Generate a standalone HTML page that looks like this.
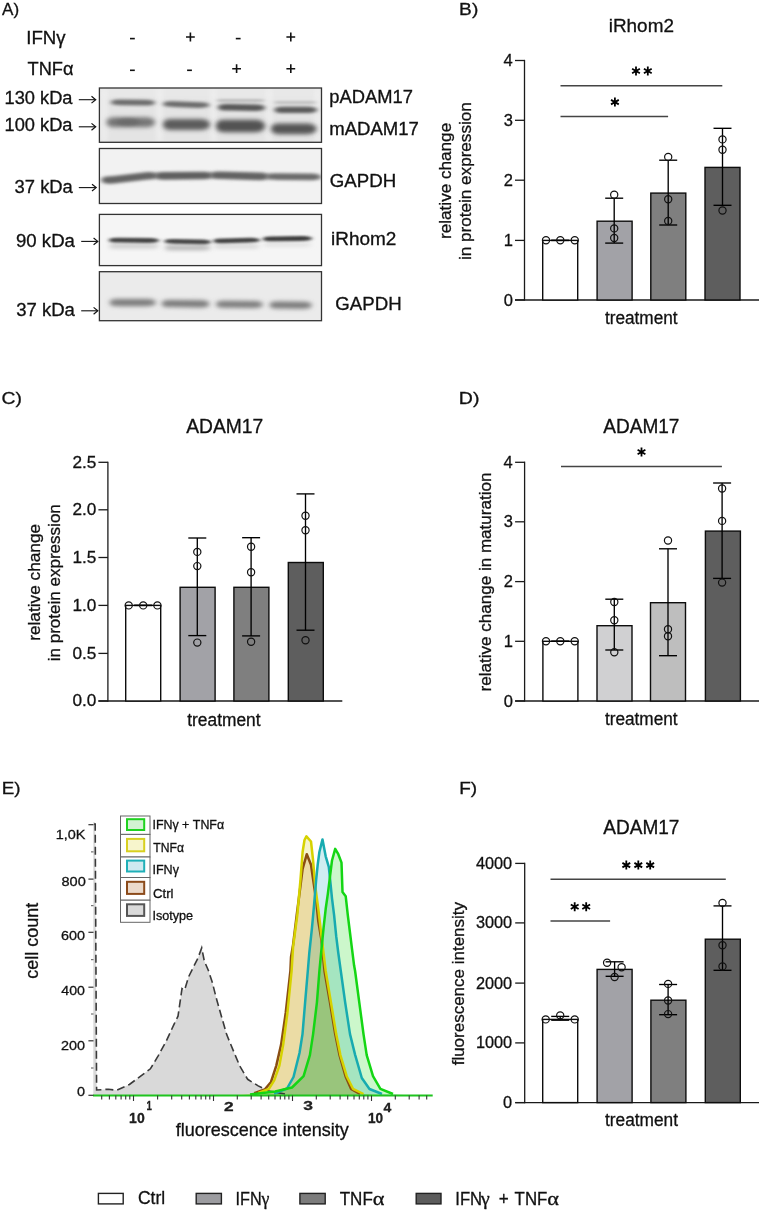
<!DOCTYPE html>
<html><head><meta charset="utf-8"><style>
html,body{margin:0;padding:0;background:#fff;}
svg{display:block;}
text{font-family:"Liberation Sans", sans-serif;fill:#111;font-kerning:none;stroke:#111;stroke-width:0.3px;}
</style></head><body>
<svg width="761" height="1211" viewBox="0 0 761 1211">
<rect width="761" height="1211" fill="#fff"/>
<text x="2.07" y="14.5" font-size="17" textLength="17.09" lengthAdjust="spacingAndGlyphs" >A)</text>
<text x="459.13" y="14.7" font-size="17" textLength="19.16" lengthAdjust="spacingAndGlyphs" >B)</text>
<text x="1.62" y="403.9" font-size="17" textLength="20.38" lengthAdjust="spacingAndGlyphs" >C)</text>
<text x="458.80" y="404.2" font-size="17" textLength="20.61" lengthAdjust="spacingAndGlyphs" >D)</text>
<text x="1.76" y="794.3" font-size="17" textLength="18.81" lengthAdjust="spacingAndGlyphs" >E)</text>
<text x="459.24" y="794.4" font-size="17" textLength="17.94" lengthAdjust="spacingAndGlyphs" >F)</text>
<text x="26.28" y="43.5" font-size="18" textLength="39.39" lengthAdjust="spacingAndGlyphs" >IFNγ</text>
<text x="27.59" y="75.3" font-size="18" textLength="45.93" lengthAdjust="spacingAndGlyphs" >TNFα</text>
<path d="M130.0 38.6H134.8" stroke="#111" stroke-width="1.6" fill="none"/>
<path d="M186.0 37.0H194.8M190.4 32.6V41.4" stroke="#111" stroke-width="1.6" fill="none"/>
<path d="M235.79999999999998 38.6H240.6" stroke="#111" stroke-width="1.6" fill="none"/>
<path d="M286.40000000000003 37.0H295.2M290.8 32.6V41.4" stroke="#111" stroke-width="1.6" fill="none"/>
<path d="M130.0 70.3H134.8" stroke="#111" stroke-width="1.6" fill="none"/>
<path d="M187.1 70.3H191.9" stroke="#111" stroke-width="1.6" fill="none"/>
<path d="M232.2 68.7H241.0M236.6 64.3V73.10000000000001" stroke="#111" stroke-width="1.6" fill="none"/>
<path d="M286.40000000000003 68.7H295.2M290.8 64.3V73.10000000000001" stroke="#111" stroke-width="1.6" fill="none"/>
<text x="4.51" y="104.4" font-size="17.5" textLength="67.99" lengthAdjust="spacingAndGlyphs" >130 kDa</text>
<text x="4.51" y="131.3" font-size="17.5" textLength="67.99" lengthAdjust="spacingAndGlyphs" >100 kDa</text>
<text x="14.60" y="192.5" font-size="17.5" textLength="58.20" lengthAdjust="spacingAndGlyphs" >37 kDa</text>
<text x="16.03" y="246.7" font-size="17.5" textLength="58.87" lengthAdjust="spacingAndGlyphs" >90 kDa</text>
<text x="16.19" y="315.8" font-size="17.5" textLength="58.71" lengthAdjust="spacingAndGlyphs" >37 kDa</text>
<path d="M78.8 99.7H95.10000000000001" stroke="#111" stroke-width="1.1" fill="none"/>
<path d="M91.5 96.3L95.7 99.7L91.5 103.10000000000001" stroke="#111" stroke-width="1.2" fill="none"/>
<path d="M78.8 126.8H95.10000000000001" stroke="#111" stroke-width="1.1" fill="none"/>
<path d="M91.5 123.39999999999999L95.7 126.8L91.5 130.2" stroke="#111" stroke-width="1.2" fill="none"/>
<path d="M78.8 187.6H95.60000000000001" stroke="#111" stroke-width="1.1" fill="none"/>
<path d="M92.0 184.2L96.2 187.6L92.0 191.0" stroke="#111" stroke-width="1.2" fill="none"/>
<path d="M81.2 241.4H97.2" stroke="#111" stroke-width="1.1" fill="none"/>
<path d="M93.6 238.0L97.8 241.4L93.6 244.8" stroke="#111" stroke-width="1.2" fill="none"/>
<path d="M81.2 310.8H97.2" stroke="#111" stroke-width="1.1" fill="none"/>
<path d="M93.6 307.40000000000003L97.8 310.8L93.6 314.2" stroke="#111" stroke-width="1.2" fill="none"/>
<text x="329.32" y="102.6" font-size="17.5" textLength="83.60" lengthAdjust="spacingAndGlyphs" >pADAM17</text>
<text x="329.27" y="135.2" font-size="17.5" textLength="89.66" lengthAdjust="spacingAndGlyphs" >mADAM17</text>
<text x="329.76" y="186.8" font-size="17.5" textLength="66.36" lengthAdjust="spacingAndGlyphs" >GAPDH</text>
<text x="331.03" y="244.9" font-size="17.5" textLength="65.32" lengthAdjust="spacingAndGlyphs" >iRhom2</text>
<text x="335.36" y="310.0" font-size="17.5" textLength="66.26" lengthAdjust="spacingAndGlyphs" >GAPDH</text>
<defs><filter id="bA" x="-30%" y="-150%" width="160%" height="400%"><feGaussianBlur stdDeviation="2.4 1.5"/></filter><filter id="bB" x="-30%" y="-150%" width="160%" height="400%"><feGaussianBlur stdDeviation="2.0 1.0"/></filter><filter id="bC" x="-30%" y="-150%" width="160%" height="400%"><feGaussianBlur stdDeviation="2.6 2.0"/></filter><filter id="bS" x="-100%" y="-20%" width="300%" height="140%"><feGaussianBlur stdDeviation="2.5 3"/></filter><clipPath id="c1"><rect x="99.4" y="88" width="222.1" height="54.3"/></clipPath><clipPath id="c2"><rect x="99.4" y="148.5" width="222.1" height="55"/></clipPath><clipPath id="c3"><rect x="99.4" y="214.4" width="222.1" height="51.2"/></clipPath><clipPath id="c4"><rect x="99.4" y="271.7" width="222.1" height="49"/></clipPath></defs>
<g clip-path="url(#c1)">
<rect x="99.4" y="88" width="222.1" height="54.3" fill="#e4e4e4"/>
<rect x="99.4" y="88" width="222.1" height="10" fill="#e9e9e9" filter="url(#bS)"/>
<rect x="101.5" y="88" width="5" height="54" fill="#efefef" filter="url(#bS)"/>
<rect x="157.0" y="88" width="5" height="54" fill="#efefef" filter="url(#bS)"/>
<rect x="211.0" y="88" width="5" height="54" fill="#efefef" filter="url(#bS)"/>
<rect x="266.5" y="88" width="5" height="54" fill="#efefef" filter="url(#bS)"/>
<rect x="315.5" y="88" width="5" height="54" fill="#efefef" filter="url(#bS)"/>
<path d="M111.0 102.3C111.0 99.4 117.0 99.4 121.0 99.4L145.0 99.8C151.0 99.8 155.0 101.0 155.0 102.7C155.0 104.4 151.0 105.6 145.0 105.6L121.0 105.2C117.0 105.2 111.0 105.2 111.0 102.3Z" fill="#6c6c6c" opacity="1" filter="url(#bA)"/>
<path d="M163.0 104.1C163.0 101.3 169.0 101.3 173.0 101.3L199.5 102.3C205.5 102.3 209.5 103.4 209.5 105.1C209.5 106.8 205.5 107.9 199.5 107.9L173.0 106.9C169.0 106.9 163.0 106.9 163.0 104.1Z" fill="#6a6a6a" opacity="1" filter="url(#bA)"/>
<path d="M216.5 100.6C216.5 99.1 222.5 99.1 226.5 99.1L255.0 99.1C261.0 99.1 265.0 99.7 265.0 100.6C265.0 101.5 261.0 102.1 255.0 102.1L226.5 102.1C222.5 102.1 216.5 102.1 216.5 100.6Z" fill="#bdbdbd" opacity="1" filter="url(#bB)"/>
<path d="M274.0 102.4C274.0 100.9 280.0 100.9 284.0 100.9L307.0 100.9C313.0 100.9 317.0 101.5 317.0 102.4C317.0 103.3 313.0 103.9 307.0 103.9L284.0 103.9C280.0 103.9 274.0 103.9 274.0 102.4Z" fill="#c2c2c2" opacity="1" filter="url(#bB)"/>
<path d="M218.0 107.3C218.0 104.0 224.0 104.0 228.0 104.0L255.0 104.5C261.0 104.5 265.0 105.8 265.0 107.8C265.0 109.8 261.0 111.1 255.0 111.1L228.0 110.6C224.0 110.6 218.0 110.6 218.0 107.3Z" fill="#575757" opacity="1" filter="url(#bA)"/>
<path d="M274.5 109.9C274.5 106.8 280.5 106.8 284.5 106.8L307.0 106.8C313.0 106.8 317.0 108.0 317.0 109.9C317.0 111.8 313.0 113.0 307.0 113.0L284.5 113.0C280.5 113.0 274.5 113.0 274.5 109.9Z" fill="#5a5a5a" opacity="1" filter="url(#bA)"/>
<path d="M106.5 122.3C106.5 117.3 112.5 117.3 116.5 117.3L145.0 117.3C151.0 117.3 155.0 119.3 155.0 122.3C155.0 125.3 151.0 127.3 145.0 127.3L116.5 127.3C112.5 127.3 106.5 127.3 106.5 122.3Z" fill="#777777" opacity="1" filter="url(#bC)"/>
<ellipse cx="128" cy="122.0" rx="12" ry="3.5" fill="#666" opacity="0.7" filter="url(#bA)"/>
<path d="M163.0 124.6C163.0 119.1 169.0 119.1 173.0 119.1L200.0 119.1C206.0 119.1 210.0 121.3 210.0 124.6C210.0 127.9 206.0 130.1 200.0 130.1L173.0 130.1C169.0 130.1 163.0 130.1 163.0 124.6Z" fill="#5c5c5c" opacity="1" filter="url(#bC)"/>
<path d="M216.0 126.0C216.0 119.8 222.0 119.8 226.0 119.8L255.0 119.8C261.0 119.8 265.0 122.3 265.0 126.0C265.0 129.7 261.0 132.2 255.0 132.2L226.0 132.2C222.0 132.2 216.0 132.2 216.0 126.0Z" fill="#525252" opacity="1" filter="url(#bC)"/>
<path d="M271.0 128.8C271.0 123.4 277.0 123.4 281.0 123.4L306.5 123.4C312.5 123.4 316.5 125.6 316.5 128.8C316.5 132.0 312.5 134.2 306.5 134.2L281.0 134.2C277.0 134.2 271.0 134.2 271.0 128.8Z" fill="#545454" opacity="1" filter="url(#bC)"/>
</g>
<rect x="99.4" y="88" width="222.1" height="54.3" fill="none" stroke="#333" stroke-width="1.3"/>
<g clip-path="url(#c2)">
<rect x="99.4" y="148.5" width="222.1" height="55" fill="#f2f2f2"/>
<path d="M101.5 180.0C101.5 176.3 107.5 176.3 111.5 176.3L148.0 172.1C154.0 172.1 158.0 173.6 158.0 175.8C158.0 178.0 154.0 179.5 148.0 179.5L111.5 183.7C107.5 183.7 101.5 183.7 101.5 180.0Z" fill="#636363" opacity="1" filter="url(#bA)"/>
<path d="M155.0 175.9C155.0 172.1 161.0 172.1 165.0 172.1L203.0 171.7C209.0 171.7 213.0 173.2 213.0 175.5C213.0 177.8 209.0 179.3 203.0 179.3L165.0 179.7C161.0 179.7 155.0 179.7 155.0 175.9Z" fill="#5f5f5f" opacity="1" filter="url(#bA)"/>
<path d="M210.0 175.2C210.0 171.4 216.0 171.4 220.0 171.4L259.0 172.6C265.0 172.6 269.0 174.1 269.0 176.4C269.0 178.7 265.0 180.2 259.0 180.2L220.0 179.0C216.0 179.0 210.0 179.0 210.0 175.2Z" fill="#626262" opacity="1" filter="url(#bA)"/>
<path d="M266.0 176.6C266.0 173.3 272.0 173.3 276.0 173.3L311.0 173.6C317.0 173.6 321.0 174.9 321.0 176.9C321.0 178.9 317.0 180.2 311.0 180.2L276.0 179.9C272.0 179.9 266.0 179.9 266.0 176.6Z" fill="#6a6a6a" opacity="1" filter="url(#bA)"/>
</g>
<rect x="99.4" y="148.5" width="222.1" height="55" fill="none" stroke="#333" stroke-width="1.3"/>
<g clip-path="url(#c3)">
<rect x="99.4" y="214.4" width="222.1" height="51.2" fill="#f5f5f5"/>
<path d="M109.0 246.0C109.0 244.0 115.0 244.0 119.0 244.0L149.0 244.0C155.0 244.0 159.0 244.8 159.0 246.0C159.0 247.2 155.0 248.0 149.0 248.0L119.0 248.0C115.0 248.0 109.0 248.0 109.0 246.0Z" fill="#c2c2c2" opacity="1" filter="url(#bC)"/>
<path d="M164.5 247.6C164.5 245.4 170.5 245.4 174.5 245.4L201.0 245.4C207.0 245.4 211.0 246.3 211.0 247.6C211.0 248.9 207.0 249.8 201.0 249.8L174.5 249.8C170.5 249.8 164.5 249.8 164.5 247.6Z" fill="#a8a8a8" opacity="1" filter="url(#bC)"/>
<path d="M213.5 246.2C213.5 244.4 219.5 244.4 223.5 244.4L250.0 244.4C256.0 244.4 260.0 245.1 260.0 246.2C260.0 247.3 256.0 248.0 250.0 248.0L223.5 248.0C219.5 248.0 213.5 248.0 213.5 246.2Z" fill="#cdcdcd" opacity="1" filter="url(#bC)"/>
<path d="M263.0 244.5C263.0 243.0 269.0 243.0 273.0 243.0L302.0 243.0C308.0 243.0 312.0 243.6 312.0 244.5C312.0 245.4 308.0 246.0 302.0 246.0L273.0 246.0C269.0 246.0 263.0 246.0 263.0 244.5Z" fill="#d8d8d8" opacity="1" filter="url(#bC)"/>
<path d="M109.0 240.2C109.0 237.8 115.0 237.8 119.0 237.8L149.0 238.1C155.0 238.1 159.0 239.1 159.0 240.5C159.0 241.9 155.0 242.9 149.0 242.9L119.0 242.6C115.0 242.6 109.0 242.6 109.0 240.2Z" fill="#444444" opacity="1" filter="url(#bB)"/>
<path d="M164.5 241.3C164.5 238.9 170.5 238.9 174.5 238.9L201.0 239.5C207.0 239.5 211.0 240.5 211.0 241.9C211.0 243.3 207.0 244.3 201.0 244.3L174.5 243.7C170.5 243.7 164.5 243.7 164.5 241.3Z" fill="#464646" opacity="1" filter="url(#bB)"/>
<path d="M213.5 240.9C213.5 238.5 219.5 238.5 223.5 238.5L250.0 237.7C256.0 237.7 260.0 238.7 260.0 240.1C260.0 241.5 256.0 242.5 250.0 242.5L223.5 243.3C219.5 243.3 213.5 243.3 213.5 240.9Z" fill="#424242" opacity="1" filter="url(#bB)"/>
<path d="M263.0 238.9C263.0 236.5 269.0 236.5 273.0 236.5L302.0 236.1C308.0 236.1 312.0 237.1 312.0 238.5C312.0 239.9 308.0 240.9 302.0 240.9L273.0 241.3C269.0 241.3 263.0 241.3 263.0 238.9Z" fill="#3e3e3e" opacity="1" filter="url(#bB)"/>
</g>
<rect x="99.4" y="214.4" width="222.1" height="51.2" fill="none" stroke="#333" stroke-width="1.3"/>
<g clip-path="url(#c4)">
<rect x="99.4" y="271.7" width="222.1" height="49" fill="#ebebeb"/>
<path d="M109.5 302.6C109.5 299.0 115.5 299.0 119.5 299.0L146.0 299.0C152.0 299.0 156.0 300.4 156.0 302.6C156.0 304.8 152.0 306.2 146.0 306.2L119.5 306.2C115.5 306.2 109.5 306.2 109.5 302.6Z" fill="#7c7c7c" opacity="1" filter="url(#bC)"/>
<path d="M161.5 303.5C161.5 299.9 167.5 299.9 171.5 299.9L199.5 300.3C205.5 300.3 209.5 301.7 209.5 303.9C209.5 306.1 205.5 307.5 199.5 307.5L171.5 307.1C167.5 307.1 161.5 307.1 161.5 303.5Z" fill="#7a7a7a" opacity="1" filter="url(#bC)"/>
<path d="M216.0 304.2C216.0 300.7 222.0 300.7 226.0 300.7L253.0 301.0C259.0 301.0 263.0 302.4 263.0 304.5C263.0 306.6 259.0 308.0 253.0 308.0L226.0 307.7C222.0 307.7 216.0 307.7 216.0 304.2Z" fill="#7d7d7d" opacity="1" filter="url(#bC)"/>
<path d="M269.5 305.0C269.5 301.5 275.5 301.5 279.5 301.5L302.0 301.8C308.0 301.8 312.0 303.2 312.0 305.3C312.0 307.4 308.0 308.8 302.0 308.8L279.5 308.5C275.5 308.5 269.5 308.5 269.5 305.0Z" fill="#7a7a7a" opacity="1" filter="url(#bC)"/>
</g>
<rect x="99.4" y="271.7" width="222.1" height="49" fill="none" stroke="#333" stroke-width="1.3"/>
<line x1="524.5" y1="59.85" x2="524.5" y2="300.65" stroke="#1a1a1a" stroke-width="1.3" />
<line x1="515.0" y1="300" x2="759" y2="300" stroke="#1a1a1a" stroke-width="1.3" />
<line x1="515.0" y1="60.5" x2="524.5" y2="60.5" stroke="#1a1a1a" stroke-width="1.3" />
<text x="503.51" y="66.1" font-size="16.5" >4</text>
<line x1="515.0" y1="120.3" x2="524.5" y2="120.3" stroke="#1a1a1a" stroke-width="1.3" />
<text x="503.75" y="125.9" font-size="16.5" >3</text>
<line x1="515.0" y1="180.2" x2="524.5" y2="180.2" stroke="#1a1a1a" stroke-width="1.3" />
<text x="503.85" y="185.8" font-size="16.5" >2</text>
<line x1="515.0" y1="240.4" x2="524.5" y2="240.4" stroke="#1a1a1a" stroke-width="1.3" />
<text x="503.83" y="246.0" font-size="16.5" >1</text>
<line x1="515.0" y1="300" x2="524.5" y2="300" stroke="#1a1a1a" stroke-width="1.3" />
<text x="503.67" y="305.6" font-size="16.5" >0</text>
<rect x="542.7" y="240.4" width="35" height="59.599999999999994" fill="#ffffff" stroke="#0d0d0d" stroke-width="1.4" />
<rect x="597.1" y="221.2" width="35" height="78.80000000000001" fill="#a2a2a7" stroke="#0d0d0d" stroke-width="1.4" />
<rect x="650.8" y="193.1" width="35" height="106.9" fill="#7f7f7f" stroke="#0d0d0d" stroke-width="1.4" />
<rect x="705.0" y="167.4" width="35" height="132.6" fill="#5e5e5e" stroke="#0d0d0d" stroke-width="1.4" />
<line x1="560.2" y1="240.4" x2="560.2" y2="240.4" stroke="#000" stroke-width="1.35" />
<line x1="551.2" y1="240.4" x2="569.2" y2="240.4" stroke="#000" stroke-width="1.35" />
<line x1="551.2" y1="240.4" x2="569.2" y2="240.4" stroke="#000" stroke-width="1.35" />
<line x1="614.2" y1="198.2" x2="614.2" y2="243.1" stroke="#000" stroke-width="1.35" />
<line x1="605.2" y1="198.2" x2="623.2" y2="198.2" stroke="#000" stroke-width="1.35" />
<line x1="605.2" y1="243.1" x2="623.2" y2="243.1" stroke="#000" stroke-width="1.35" />
<line x1="668.2" y1="160.2" x2="668.2" y2="225.0" stroke="#000" stroke-width="1.35" />
<line x1="659.2" y1="160.2" x2="677.2" y2="160.2" stroke="#000" stroke-width="1.35" />
<line x1="659.2" y1="225.0" x2="677.2" y2="225.0" stroke="#000" stroke-width="1.35" />
<line x1="722.5" y1="128.3" x2="722.5" y2="205.3" stroke="#000" stroke-width="1.35" />
<line x1="713.5" y1="128.3" x2="731.5" y2="128.3" stroke="#000" stroke-width="1.35" />
<line x1="713.5" y1="205.3" x2="731.5" y2="205.3" stroke="#000" stroke-width="1.35" />
<circle cx="546" cy="240.2" r="3.6" fill="none" stroke="#111" stroke-width="1.2"/>
<circle cx="560.3" cy="240.2" r="3.6" fill="none" stroke="#111" stroke-width="1.2"/>
<circle cx="574.75" cy="240.2" r="3.6" fill="none" stroke="#111" stroke-width="1.2"/>
<circle cx="614.2" cy="194.8" r="3.6" fill="none" stroke="#111" stroke-width="1.2"/>
<circle cx="614.2" cy="228.4" r="3.6" fill="none" stroke="#111" stroke-width="1.2"/>
<circle cx="614.2" cy="238" r="3.6" fill="none" stroke="#111" stroke-width="1.2"/>
<circle cx="668.2" cy="156.9" r="3.6" fill="none" stroke="#111" stroke-width="1.2"/>
<circle cx="668.2" cy="199.3" r="3.6" fill="none" stroke="#111" stroke-width="1.2"/>
<circle cx="668.2" cy="221" r="3.6" fill="none" stroke="#111" stroke-width="1.2"/>
<circle cx="722.5" cy="139.4" r="3.6" fill="none" stroke="#111" stroke-width="1.2"/>
<circle cx="722.5" cy="149.7" r="3.6" fill="none" stroke="#111" stroke-width="1.2"/>
<circle cx="722.5" cy="210.5" r="3.6" fill="none" stroke="#111" stroke-width="1.2"/>
<text x="608.73" y="31.9" font-size="19" textLength="65.22" lengthAdjust="spacingAndGlyphs" >iRhom2</text>
<text x="604.94" y="323.9" font-size="17.5" textLength="72.69" lengthAdjust="spacingAndGlyphs" >treatment</text>
<text transform="translate(450.8 237.8) rotate(-90)" x="-1.14" y="0" font-size="17" textLength="116.10" lengthAdjust="spacingAndGlyphs" >relative change</text>
<text transform="translate(470.9 258.8) rotate(-90)" x="-1.14" y="0" font-size="17" textLength="157.65" lengthAdjust="spacingAndGlyphs" >in protein expression</text>
<line x1="560.5" y1="85.7" x2="722.3" y2="85.7" stroke="#444" stroke-width="1.5" />
<line x1="560.5" y1="116.4" x2="668.1" y2="116.4" stroke="#444" stroke-width="1.5" />
<path d="M636.00 66.50L636.00 75.50M632.10 68.75L639.90 73.25M632.10 73.25L639.90 68.75" stroke="#000" stroke-width="1.8" fill="none"/>
<path d="M647.80 66.50L647.80 75.50M643.90 68.75L651.70 73.25M643.90 73.25L651.70 68.75" stroke="#000" stroke-width="1.8" fill="none"/>
<path d="M614.90 97.60L614.90 106.60M611.00 99.85L618.80 104.35M611.00 104.35L618.80 99.85" stroke="#000" stroke-width="1.8" fill="none"/>
<line x1="107.9" y1="461.65000000000003" x2="107.9" y2="701.65" stroke="#1a1a1a" stroke-width="1.3" />
<line x1="98.4" y1="701.0" x2="342.3" y2="701.0" stroke="#1a1a1a" stroke-width="1.3" />
<line x1="98.4" y1="462.3" x2="107.9" y2="462.3" stroke="#1a1a1a" stroke-width="1.3" />
<text x="72.51" y="467.5" font-size="17.2" >2.5</text>
<line x1="98.4" y1="509.8" x2="107.9" y2="509.8" stroke="#1a1a1a" stroke-width="1.3" />
<text x="72.46" y="515.0" font-size="17.2" >2.0</text>
<line x1="98.4" y1="557.5" x2="107.9" y2="557.5" stroke="#1a1a1a" stroke-width="1.3" />
<text x="72.51" y="562.7" font-size="17.2" >1.5</text>
<line x1="98.4" y1="605.4" x2="107.9" y2="605.4" stroke="#1a1a1a" stroke-width="1.3" />
<text x="72.46" y="610.6" font-size="17.2" >1.0</text>
<line x1="98.4" y1="653.4" x2="107.9" y2="653.4" stroke="#1a1a1a" stroke-width="1.3" />
<text x="72.51" y="658.6" font-size="17.2" >0.5</text>
<line x1="98.4" y1="701.0" x2="107.9" y2="701.0" stroke="#1a1a1a" stroke-width="1.3" />
<text x="72.46" y="706.2" font-size="17.2" >0.0</text>
<rect x="125.7" y="605.4" width="35" height="95.60000000000002" fill="#ffffff" stroke="#0d0d0d" stroke-width="1.4" />
<rect x="180.1" y="587.3" width="35" height="113.70000000000005" fill="#a2a2a7" stroke="#0d0d0d" stroke-width="1.4" />
<rect x="233.9" y="587.3" width="35" height="113.70000000000005" fill="#7f7f7f" stroke="#0d0d0d" stroke-width="1.4" />
<rect x="288.3" y="562.5" width="35" height="138.5" fill="#5e5e5e" stroke="#0d0d0d" stroke-width="1.4" />
<line x1="143.2" y1="605.4" x2="143.2" y2="605.4" stroke="#000" stroke-width="1.35" />
<line x1="134.2" y1="605.4" x2="152.2" y2="605.4" stroke="#000" stroke-width="1.35" />
<line x1="134.2" y1="605.4" x2="152.2" y2="605.4" stroke="#000" stroke-width="1.35" />
<line x1="197.3" y1="538" x2="197.3" y2="635.6" stroke="#000" stroke-width="1.35" />
<line x1="188.3" y1="538" x2="206.3" y2="538" stroke="#000" stroke-width="1.35" />
<line x1="188.3" y1="635.6" x2="206.3" y2="635.6" stroke="#000" stroke-width="1.35" />
<line x1="251.1" y1="537.7" x2="251.1" y2="635.9" stroke="#000" stroke-width="1.35" />
<line x1="242.1" y1="537.7" x2="260.1" y2="537.7" stroke="#000" stroke-width="1.35" />
<line x1="242.1" y1="635.9" x2="260.1" y2="635.9" stroke="#000" stroke-width="1.35" />
<line x1="305.5" y1="493.9" x2="305.5" y2="630.2" stroke="#000" stroke-width="1.35" />
<line x1="296.5" y1="493.9" x2="314.5" y2="493.9" stroke="#000" stroke-width="1.35" />
<line x1="296.5" y1="630.2" x2="314.5" y2="630.2" stroke="#000" stroke-width="1.35" />
<circle cx="128.7" cy="605.4" r="3.6" fill="none" stroke="#111" stroke-width="1.2"/>
<circle cx="143.2" cy="605.4" r="3.6" fill="none" stroke="#111" stroke-width="1.2"/>
<circle cx="157.4" cy="605.4" r="3.6" fill="none" stroke="#111" stroke-width="1.2"/>
<circle cx="197.3" cy="551.9" r="3.6" fill="none" stroke="#111" stroke-width="1.2"/>
<circle cx="197.3" cy="566.1" r="3.6" fill="none" stroke="#111" stroke-width="1.2"/>
<circle cx="197.3" cy="642.6" r="3.6" fill="none" stroke="#111" stroke-width="1.2"/>
<circle cx="251.1" cy="546.8" r="3.6" fill="none" stroke="#111" stroke-width="1.2"/>
<circle cx="251.1" cy="572.2" r="3.6" fill="none" stroke="#111" stroke-width="1.2"/>
<circle cx="251.1" cy="641.7" r="3.6" fill="none" stroke="#111" stroke-width="1.2"/>
<circle cx="305.5" cy="515.7" r="3.6" fill="none" stroke="#111" stroke-width="1.2"/>
<circle cx="305.5" cy="530.2" r="3.6" fill="none" stroke="#111" stroke-width="1.2"/>
<circle cx="305.5" cy="640.2" r="3.6" fill="none" stroke="#111" stroke-width="1.2"/>
<text x="186.16" y="433.4" font-size="19.5" textLength="77.01" lengthAdjust="spacingAndGlyphs" >ADAM17</text>
<text x="187.24" y="725.5" font-size="17.5" textLength="73.29" lengthAdjust="spacingAndGlyphs" >treatment</text>
<text transform="translate(39.7 639.7) rotate(-90)" x="-1.15" y="0" font-size="17" textLength="117.01" lengthAdjust="spacingAndGlyphs" >relative change</text>
<text transform="translate(60.1 660.2) rotate(-90)" x="-1.14" y="0" font-size="17" textLength="157.15" lengthAdjust="spacingAndGlyphs" >in protein expression</text>
<line x1="524.6" y1="461.65000000000003" x2="524.6" y2="701.65" stroke="#1a1a1a" stroke-width="1.3" />
<line x1="515.1" y1="701.0" x2="759" y2="701.0" stroke="#1a1a1a" stroke-width="1.3" />
<line x1="515.1" y1="462.3" x2="524.6" y2="462.3" stroke="#1a1a1a" stroke-width="1.3" />
<text x="503.51" y="467.9" font-size="16.5" >4</text>
<line x1="515.1" y1="521.8" x2="524.6" y2="521.8" stroke="#1a1a1a" stroke-width="1.3" />
<text x="503.75" y="527.4" font-size="16.5" >3</text>
<line x1="515.1" y1="581.6" x2="524.6" y2="581.6" stroke="#1a1a1a" stroke-width="1.3" />
<text x="503.85" y="587.2" font-size="16.5" >2</text>
<line x1="515.1" y1="641.3" x2="524.6" y2="641.3" stroke="#1a1a1a" stroke-width="1.3" />
<text x="503.83" y="646.9" font-size="16.5" >1</text>
<line x1="515.1" y1="701.0" x2="524.6" y2="701.0" stroke="#1a1a1a" stroke-width="1.3" />
<text x="503.67" y="706.6" font-size="16.5" >0</text>
<rect x="542.9" y="641.3" width="35" height="59.700000000000045" fill="#ffffff" stroke="#0d0d0d" stroke-width="1.4" />
<rect x="597.0" y="625.7" width="35" height="75.29999999999995" fill="#d0d0d2" stroke="#0d0d0d" stroke-width="1.4" />
<rect x="650.5" y="602.7" width="35" height="98.29999999999995" fill="#bebebe" stroke="#0d0d0d" stroke-width="1.4" />
<rect x="705.4" y="531.1" width="35" height="169.89999999999998" fill="#5e5e5e" stroke="#0d0d0d" stroke-width="1.4" />
<line x1="560.2" y1="641.3" x2="560.2" y2="641.3" stroke="#000" stroke-width="1.35" />
<line x1="551.2" y1="641.3" x2="569.2" y2="641.3" stroke="#000" stroke-width="1.35" />
<line x1="551.2" y1="641.3" x2="569.2" y2="641.3" stroke="#000" stroke-width="1.35" />
<line x1="614.3" y1="599.2" x2="614.3" y2="650.0" stroke="#000" stroke-width="1.35" />
<line x1="605.3" y1="599.2" x2="623.3" y2="599.2" stroke="#000" stroke-width="1.35" />
<line x1="605.3" y1="650.0" x2="623.3" y2="650.0" stroke="#000" stroke-width="1.35" />
<line x1="668.0" y1="548.8" x2="668.0" y2="655.7" stroke="#000" stroke-width="1.35" />
<line x1="659.0" y1="548.8" x2="677.0" y2="548.8" stroke="#000" stroke-width="1.35" />
<line x1="659.0" y1="655.7" x2="677.0" y2="655.7" stroke="#000" stroke-width="1.35" />
<line x1="722.1" y1="483.0" x2="722.1" y2="578.4" stroke="#000" stroke-width="1.35" />
<line x1="713.1" y1="483.0" x2="731.1" y2="483.0" stroke="#000" stroke-width="1.35" />
<line x1="713.1" y1="578.4" x2="731.1" y2="578.4" stroke="#000" stroke-width="1.35" />
<circle cx="546" cy="641.3" r="3.6" fill="none" stroke="#111" stroke-width="1.2"/>
<circle cx="560.3" cy="641.3" r="3.6" fill="none" stroke="#111" stroke-width="1.2"/>
<circle cx="574.7" cy="641.3" r="3.6" fill="none" stroke="#111" stroke-width="1.2"/>
<circle cx="614.3" cy="602" r="3.6" fill="none" stroke="#111" stroke-width="1.2"/>
<circle cx="614.3" cy="620.2" r="3.6" fill="none" stroke="#111" stroke-width="1.2"/>
<circle cx="614.3" cy="652.2" r="3.6" fill="none" stroke="#111" stroke-width="1.2"/>
<circle cx="668" cy="540.5" r="3.6" fill="none" stroke="#111" stroke-width="1.2"/>
<circle cx="668" cy="629.2" r="3.6" fill="none" stroke="#111" stroke-width="1.2"/>
<circle cx="668" cy="636.3" r="3.6" fill="none" stroke="#111" stroke-width="1.2"/>
<circle cx="722.1" cy="488.5" r="3.6" fill="none" stroke="#111" stroke-width="1.2"/>
<circle cx="722.1" cy="520.9" r="3.6" fill="none" stroke="#111" stroke-width="1.2"/>
<circle cx="722.1" cy="582.6" r="3.6" fill="none" stroke="#111" stroke-width="1.2"/>
<text x="603.26" y="433.2" font-size="19.5" textLength="76.19" lengthAdjust="spacingAndGlyphs" >ADAM17</text>
<text x="604.94" y="725.1" font-size="17.5" textLength="72.69" lengthAdjust="spacingAndGlyphs" >treatment</text>
<text transform="translate(491 690.3) rotate(-90)" x="-1.13" y="0" font-size="17" textLength="218.84" lengthAdjust="spacingAndGlyphs" >relative change in maturation</text>
<line x1="561" y1="466.4" x2="721.9" y2="466.4" stroke="#444" stroke-width="1.5" />
<path d="M641.50 447.50L641.50 456.50M637.60 449.75L645.40 454.25M637.60 454.25L645.40 449.75" stroke="#000" stroke-width="1.8" fill="none"/>
<line x1="524.7" y1="862.75" x2="524.7" y2="1103.25" stroke="#1a1a1a" stroke-width="1.3" />
<line x1="515.2" y1="1102.6" x2="759" y2="1102.6" stroke="#1a1a1a" stroke-width="1.3" />
<line x1="515.2" y1="863.4" x2="524.7" y2="863.4" stroke="#1a1a1a" stroke-width="1.3" />
<text x="475.88" y="868.8" font-size="16.3" >4000</text>
<line x1="515.2" y1="922.9" x2="524.7" y2="922.9" stroke="#1a1a1a" stroke-width="1.3" />
<text x="475.88" y="928.3" font-size="16.3" >3000</text>
<line x1="515.2" y1="983.1" x2="524.7" y2="983.1" stroke="#1a1a1a" stroke-width="1.3" />
<text x="475.88" y="988.5" font-size="16.3" >2000</text>
<line x1="515.2" y1="1042.9" x2="524.7" y2="1042.9" stroke="#1a1a1a" stroke-width="1.3" />
<text x="475.88" y="1048.3" font-size="16.3" >1000</text>
<line x1="515.2" y1="1102.6" x2="524.7" y2="1102.6" stroke="#1a1a1a" stroke-width="1.3" />
<text x="503.07" y="1108.0" font-size="16.3" >0</text>
<rect x="542.7" y="1019.4" width="35" height="83.19999999999993" fill="#ffffff" stroke="#0d0d0d" stroke-width="1.4" />
<rect x="597.1" y="969.4" width="35" height="133.19999999999993" fill="#a2a2a7" stroke="#0d0d0d" stroke-width="1.4" />
<rect x="650.9" y="1000.2" width="35" height="102.39999999999986" fill="#7f7f7f" stroke="#0d0d0d" stroke-width="1.4" />
<rect x="705.3" y="939.2" width="35" height="163.39999999999986" fill="#5e5e5e" stroke="#0d0d0d" stroke-width="1.4" />
<line x1="560.2" y1="1016.4" x2="560.2" y2="1020.2" stroke="#000" stroke-width="1.35" />
<line x1="551.2" y1="1016.4" x2="569.2" y2="1016.4" stroke="#000" stroke-width="1.35" />
<line x1="551.2" y1="1020.2" x2="569.2" y2="1020.2" stroke="#000" stroke-width="1.35" />
<line x1="614.6" y1="961.8" x2="614.6" y2="976.3" stroke="#000" stroke-width="1.35" />
<line x1="605.6" y1="961.8" x2="623.6" y2="961.8" stroke="#000" stroke-width="1.35" />
<line x1="605.6" y1="976.3" x2="623.6" y2="976.3" stroke="#000" stroke-width="1.35" />
<line x1="668.1" y1="984.5" x2="668.1" y2="1014.7" stroke="#000" stroke-width="1.35" />
<line x1="659.1" y1="984.5" x2="677.1" y2="984.5" stroke="#000" stroke-width="1.35" />
<line x1="659.1" y1="1014.7" x2="677.1" y2="1014.7" stroke="#000" stroke-width="1.35" />
<line x1="722.5" y1="905.9" x2="722.5" y2="970.3" stroke="#000" stroke-width="1.35" />
<line x1="713.5" y1="905.9" x2="731.5" y2="905.9" stroke="#000" stroke-width="1.35" />
<line x1="713.5" y1="970.3" x2="731.5" y2="970.3" stroke="#000" stroke-width="1.35" />
<circle cx="545.7" cy="1019.4" r="3.6" fill="none" stroke="#111" stroke-width="1.2"/>
<circle cx="560.2" cy="1015.4" r="3.6" fill="none" stroke="#111" stroke-width="1.2"/>
<circle cx="574.7" cy="1019.4" r="3.6" fill="none" stroke="#111" stroke-width="1.2"/>
<circle cx="607.1" cy="962.7" r="3.6" fill="none" stroke="#111" stroke-width="1.2"/>
<circle cx="621.6" cy="967.3" r="3.6" fill="none" stroke="#111" stroke-width="1.2"/>
<circle cx="614.6" cy="977" r="3.6" fill="none" stroke="#111" stroke-width="1.2"/>
<circle cx="668.1" cy="983.9" r="3.6" fill="none" stroke="#111" stroke-width="1.2"/>
<circle cx="668.1" cy="1000.5" r="3.6" fill="none" stroke="#111" stroke-width="1.2"/>
<circle cx="668.1" cy="1014.1" r="3.6" fill="none" stroke="#111" stroke-width="1.2"/>
<circle cx="722.5" cy="902.9" r="3.6" fill="none" stroke="#111" stroke-width="1.2"/>
<circle cx="722.5" cy="945.2" r="3.6" fill="none" stroke="#111" stroke-width="1.2"/>
<circle cx="722.5" cy="966.4" r="3.6" fill="none" stroke="#111" stroke-width="1.2"/>
<text x="603.26" y="834.3" font-size="19.5" textLength="76.19" lengthAdjust="spacingAndGlyphs" >ADAM17</text>
<text x="604.94" y="1126.1" font-size="17.5" textLength="73.09" lengthAdjust="spacingAndGlyphs" >treatment</text>
<text transform="translate(463.6 1065.1) rotate(-90)" x="-0.24" y="0" font-size="17" textLength="163.37" lengthAdjust="spacingAndGlyphs" >fluorescence intensity</text>
<line x1="550.5" y1="879.3" x2="725.8" y2="879.3" stroke="#444" stroke-width="1.5" />
<line x1="550.5" y1="921" x2="610.1" y2="921" stroke="#444" stroke-width="1.5" />
<path d="M626.30 860.60L626.30 869.60M622.40 862.85L630.20 867.35M622.40 867.35L630.20 862.85" stroke="#000" stroke-width="1.8" fill="none"/>
<path d="M638.30 860.60L638.30 869.60M634.40 862.85L642.20 867.35M634.40 867.35L642.20 862.85" stroke="#000" stroke-width="1.8" fill="none"/>
<path d="M650.20 860.60L650.20 869.60M646.30 862.85L654.10 867.35M646.30 867.35L654.10 862.85" stroke="#000" stroke-width="1.8" fill="none"/>
<path d="M574.70 902.30L574.70 911.30M570.80 904.55L578.60 909.05M570.80 909.05L578.60 904.55" stroke="#000" stroke-width="1.8" fill="none"/>
<path d="M586.20 902.30L586.20 911.30M582.30 904.55L590.10 909.05M582.30 909.05L590.10 904.55" stroke="#000" stroke-width="1.8" fill="none"/>
<defs><clipPath id="fc"><rect x="93" y="800" width="345" height="296"/></clipPath></defs>
<line x1="94" y1="822" x2="94" y2="1095.5" stroke="#c8c8c8" stroke-width="1"/>
<g clip-path="url(#fc)">
<path d="M94.0 1095.5L94.0 824.0L95.2 824.0L96.6 1090.0L108.4 1089.2L116.3 1090.3L129.4 1084.5L140.0 1076.6L150.4 1068.8L158.3 1055.6L166.2 1041.2L174.1 1024.1L178.0 1016.2L182.0 988.6L184.6 990.0L188.6 976.8L192.5 968.9L197.8 958.4L201.7 947.9L204.3 961.0L208.3 970.2L212.2 982.0L216.2 997.8L221.4 1016.2L226.7 1034.6L233.2 1050.4L239.8 1066.1L247.7 1079.3L258.2 1085.9L268.7 1091.1L285.0 1094.0L300.0 1095.5Z" fill="#d9d9d9"/>
<g style="isolation:isolate">
<path d="M230.0 1095.5L254.2 1093.2L264.7 1089.5L271.0 1082.0L276.3 1065.6L281.1 1044.6L285.7 1013.0L290.4 971.0L291.0 957.2L293.1 944.6L296.7 915.1L300.5 885.7L302.6 868.9L306.8 854.2L311.0 864.7L313.1 879.4L316.2 900.4L318.3 921.4L321.5 940.4L324.5 971.0L330.0 1002.6L335.2 1034.1L339.5 1055.1L345.5 1076.2L351.0 1088.8L360.0 1094.0L380.0 1095.5Z" fill="#f4e6d0" style="mix-blend-mode:multiply"/>
<path d="M235.0 1095.5L258.4 1093.0L268.9 1088.8L274.2 1080.4L279.4 1065.6L283.2 1044.6L287.4 1013.0L291.6 971.0L293.1 946.7L297.3 915.1L300.5 879.4L302.6 852.0L304.5 840.0L306.4 836.3L311.0 841.5L313.1 860.5L315.2 885.7L318.3 908.8L321.5 936.2L325.7 971.0L331.0 1002.6L336.2 1034.1L340.4 1055.1L346.7 1076.2L353.0 1088.8L363.5 1094.0L385.0 1095.5Z" fill="#f6f4cb" style="mix-blend-mode:multiply"/>
<path d="M255.0 1095.5L274.0 1093.5L287.0 1088.5L293.5 1077.0L299.5 1053.0L302.5 1034.1L305.1 1002.6L307.8 971.0L309.3 953.0L312.0 927.7L314.1 904.6L316.2 879.4L317.7 864.7L319.4 852.0L322.5 839.4L325.7 856.3L328.8 866.8L329.9 877.3L332.0 898.3L334.1 915.1L336.2 936.2L338.3 953.0L340.8 971.0L345.2 1002.6L350.0 1034.1L355.2 1055.1L361.8 1078.0L369.5 1089.0L382.0 1094.0L400.0 1095.5Z" fill="#cfedf1" style="mix-blend-mode:multiply"/>
<path d="M230.0 1095.5L250.0 1094.5L275.2 1091.5L292.0 1087.5L303.6 1076.2L309.9 1055.1L313.1 1034.1L316.9 1002.6L319.4 971.0L321.5 948.8L323.6 927.7L325.7 908.8L327.8 894.1L329.9 877.3L332.0 860.5L335.2 848.9L338.3 854.2L341.5 862.6L342.5 892.0L345.7 896.2L347.8 915.1L349.9 932.0L352.0 948.8L354.1 965.6L355.1 971.0L359.3 1002.6L363.5 1034.1L366.7 1055.1L373.0 1076.2L380.4 1088.8L393.0 1094.0L410.0 1095.5Z" fill="#ccf7cb" style="mix-blend-mode:multiply"/>
</g>
<path d="M94.0 824.0L95.2 824.0L96.6 1090.0L108.4 1089.2L116.3 1090.3L129.4 1084.5L140.0 1076.6L150.4 1068.8L158.3 1055.6L166.2 1041.2L174.1 1024.1L178.0 1016.2L182.0 988.6L184.6 990.0L188.6 976.8L192.5 968.9L197.8 958.4L201.7 947.9L204.3 961.0L208.3 970.2L212.2 982.0L216.2 997.8L221.4 1016.2L226.7 1034.6L233.2 1050.4L239.8 1066.1L247.7 1079.3L258.2 1085.9L268.7 1091.1L285.0 1094.0" fill="none" stroke="#3a3a3a" stroke-width="1.6" stroke-dasharray="8 4"/>
<path d="M254.2 1093.2L264.7 1089.5L271.0 1082.0L276.3 1065.6L281.1 1044.6L285.7 1013.0L290.4 971.0L291.0 957.2L293.1 944.6L296.7 915.1L300.5 885.7L302.6 868.9L306.8 854.2L311.0 864.7L313.1 879.4L316.2 900.4L318.3 921.4L321.5 940.4L324.5 971.0L330.0 1002.6L335.2 1034.1L339.5 1055.1L345.5 1076.2L351.0 1088.8L360.0 1094.0" fill="none" stroke="#8a4e12" stroke-width="2.5" stroke-linejoin="round"/>
<path d="M258.4 1093.0L268.9 1088.8L274.2 1080.4L279.4 1065.6L283.2 1044.6L287.4 1013.0L291.6 971.0L293.1 946.7L297.3 915.1L300.5 879.4L302.6 852.0L304.5 840.0L306.4 836.3L311.0 841.5L313.1 860.5L315.2 885.7L318.3 908.8L321.5 936.2L325.7 971.0L331.0 1002.6L336.2 1034.1L340.4 1055.1L346.7 1076.2L353.0 1088.8L363.5 1094.0" fill="none" stroke="#d6d200" stroke-width="2.5" stroke-linejoin="round"/>
<path d="M274.0 1093.5L287.0 1088.5L293.5 1077.0L299.5 1053.0L302.5 1034.1L305.1 1002.6L307.8 971.0L309.3 953.0L312.0 927.7L314.1 904.6L316.2 879.4L317.7 864.7L319.4 852.0L322.5 839.4L325.7 856.3L328.8 866.8L329.9 877.3L332.0 898.3L334.1 915.1L336.2 936.2L338.3 953.0L340.8 971.0L345.2 1002.6L350.0 1034.1L355.2 1055.1L361.8 1078.0L369.5 1089.0L382.0 1094.0" fill="none" stroke="#17abb0" stroke-width="2.5" stroke-linejoin="round"/>
<path d="M250.0 1094.5L275.2 1091.5L292.0 1087.5L303.6 1076.2L309.9 1055.1L313.1 1034.1L316.9 1002.6L319.4 971.0L321.5 948.8L323.6 927.7L325.7 908.8L327.8 894.1L329.9 877.3L332.0 860.5L335.2 848.9L338.3 854.2L341.5 862.6L342.5 892.0L345.7 896.2L347.8 915.1L349.9 932.0L352.0 948.8L354.1 965.6L355.1 971.0L359.3 1002.6L363.5 1034.1L366.7 1055.1L373.0 1076.2L380.4 1088.8L393.0 1094.0" fill="none" stroke="#14d614" stroke-width="2.5" stroke-linejoin="round"/>
</g>
<line x1="93" y1="1095.5" x2="432.7" y2="1095.5" stroke="#1fc41f" stroke-width="1.8"/>
<line x1="88.4" y1="824.7" x2="93.5" y2="824.7" stroke="#333" stroke-width="1.2"/>
<line x1="88.4" y1="879.1" x2="93.5" y2="879.1" stroke="#333" stroke-width="1.2"/>
<line x1="88.4" y1="932.3" x2="93.5" y2="932.3" stroke="#333" stroke-width="1.2"/>
<line x1="88.4" y1="987.2" x2="93.5" y2="987.2" stroke="#333" stroke-width="1.2"/>
<line x1="88.4" y1="1040.8" x2="93.5" y2="1040.8" stroke="#333" stroke-width="1.2"/>
<line x1="88.4" y1="1095.3" x2="93.5" y2="1095.3" stroke="#333" stroke-width="1.2"/>
<line x1="91" y1="851.9" x2="93.5" y2="851.9" stroke="#555" stroke-width="1"/>
<line x1="91" y1="905.7" x2="93.5" y2="905.7" stroke="#555" stroke-width="1"/>
<line x1="91" y1="959.7" x2="93.5" y2="959.7" stroke="#555" stroke-width="1"/>
<line x1="91" y1="1014" x2="93.5" y2="1014" stroke="#555" stroke-width="1"/>
<line x1="91" y1="1068" x2="93.5" y2="1068" stroke="#555" stroke-width="1"/>
<text x="55.70" y="838.6" font-size="13.5" textLength="29.66" lengthAdjust="spacingAndGlyphs" fill="#222">1,0K</text>
<text x="61.47" y="886.2" font-size="13.5" textLength="24.30" lengthAdjust="spacingAndGlyphs" fill="#222">800</text>
<text x="60.97" y="940.2" font-size="13.5" textLength="23.99" lengthAdjust="spacingAndGlyphs" fill="#222">600</text>
<text x="61.38" y="994.7" font-size="13.5" textLength="23.58" lengthAdjust="spacingAndGlyphs" fill="#222">400</text>
<text x="60.98" y="1050.1" font-size="13.5" textLength="23.98" lengthAdjust="spacingAndGlyphs" fill="#222">200</text>
<text x="76.94" y="1095.5" font-size="13.5" textLength="8.03" lengthAdjust="spacingAndGlyphs" fill="#222">0</text>
<line x1="101.7" y1="1095.5" x2="101.7" y2="1099.5" stroke="#333" stroke-width="1.1"/>
<line x1="109.4" y1="1095.5" x2="109.4" y2="1099.5" stroke="#333" stroke-width="1.1"/>
<line x1="115.8" y1="1095.5" x2="115.8" y2="1099.5" stroke="#333" stroke-width="1.1"/>
<line x1="121.1" y1="1095.5" x2="121.1" y2="1099.5" stroke="#333" stroke-width="1.1"/>
<line x1="125.7" y1="1095.5" x2="125.7" y2="1099.5" stroke="#333" stroke-width="1.1"/>
<line x1="129.8" y1="1095.5" x2="129.8" y2="1099.5" stroke="#333" stroke-width="1.1"/>
<line x1="133.5" y1="1095.5" x2="133.5" y2="1101.0" stroke="#333" stroke-width="1.1"/>
<line x1="157.6" y1="1095.5" x2="157.6" y2="1099.5" stroke="#333" stroke-width="1.1"/>
<line x1="171.7" y1="1095.5" x2="171.7" y2="1099.5" stroke="#333" stroke-width="1.1"/>
<line x1="181.7" y1="1095.5" x2="181.7" y2="1099.5" stroke="#333" stroke-width="1.1"/>
<line x1="189.4" y1="1095.5" x2="189.4" y2="1099.5" stroke="#333" stroke-width="1.1"/>
<line x1="195.8" y1="1095.5" x2="195.8" y2="1099.5" stroke="#333" stroke-width="1.1"/>
<line x1="201.1" y1="1095.5" x2="201.1" y2="1099.5" stroke="#333" stroke-width="1.1"/>
<line x1="205.7" y1="1095.5" x2="205.7" y2="1099.5" stroke="#333" stroke-width="1.1"/>
<line x1="209.8" y1="1095.5" x2="209.8" y2="1099.5" stroke="#333" stroke-width="1.1"/>
<line x1="213.5" y1="1095.5" x2="213.5" y2="1101.0" stroke="#333" stroke-width="1.1"/>
<line x1="237.3" y1="1095.5" x2="237.3" y2="1099.5" stroke="#333" stroke-width="1.1"/>
<line x1="251.2" y1="1095.5" x2="251.2" y2="1099.5" stroke="#333" stroke-width="1.1"/>
<line x1="261.1" y1="1095.5" x2="261.1" y2="1099.5" stroke="#333" stroke-width="1.1"/>
<line x1="268.7" y1="1095.5" x2="268.7" y2="1099.5" stroke="#333" stroke-width="1.1"/>
<line x1="275.0" y1="1095.5" x2="275.0" y2="1099.5" stroke="#333" stroke-width="1.1"/>
<line x1="280.3" y1="1095.5" x2="280.3" y2="1099.5" stroke="#333" stroke-width="1.1"/>
<line x1="284.8" y1="1095.5" x2="284.8" y2="1099.5" stroke="#333" stroke-width="1.1"/>
<line x1="288.9" y1="1095.5" x2="288.9" y2="1099.5" stroke="#333" stroke-width="1.1"/>
<line x1="292.5" y1="1095.5" x2="292.5" y2="1101.0" stroke="#333" stroke-width="1.1"/>
<line x1="316.3" y1="1095.5" x2="316.3" y2="1099.5" stroke="#333" stroke-width="1.1"/>
<line x1="330.2" y1="1095.5" x2="330.2" y2="1099.5" stroke="#333" stroke-width="1.1"/>
<line x1="340.1" y1="1095.5" x2="340.1" y2="1099.5" stroke="#333" stroke-width="1.1"/>
<line x1="347.7" y1="1095.5" x2="347.7" y2="1099.5" stroke="#333" stroke-width="1.1"/>
<line x1="354.0" y1="1095.5" x2="354.0" y2="1099.5" stroke="#333" stroke-width="1.1"/>
<line x1="359.3" y1="1095.5" x2="359.3" y2="1099.5" stroke="#333" stroke-width="1.1"/>
<line x1="363.8" y1="1095.5" x2="363.8" y2="1099.5" stroke="#333" stroke-width="1.1"/>
<line x1="367.9" y1="1095.5" x2="367.9" y2="1099.5" stroke="#333" stroke-width="1.1"/>
<line x1="371.5" y1="1095.5" x2="371.5" y2="1101.0" stroke="#333" stroke-width="1.1"/>
<line x1="395.3" y1="1095.5" x2="395.3" y2="1099.5" stroke="#333" stroke-width="1.1"/>
<line x1="409.2" y1="1095.5" x2="409.2" y2="1099.5" stroke="#333" stroke-width="1.1"/>
<line x1="419.1" y1="1095.5" x2="419.1" y2="1099.5" stroke="#333" stroke-width="1.1"/>
<line x1="426.7" y1="1095.5" x2="426.7" y2="1099.5" stroke="#333" stroke-width="1.1"/>
<text x="129.12" y="1123.2" font-size="15" textLength="15.55" lengthAdjust="spacingAndGlyphs" font-weight="bold" style="fill:#222">10</text>
<text x="146.59" y="1110.2" font-size="13.5" textLength="5.38" lengthAdjust="spacingAndGlyphs" font-weight="bold" style="fill:#222">1</text>
<text x="223.90" y="1110.7" font-size="13.5" textLength="9.59" lengthAdjust="spacingAndGlyphs" font-weight="bold" style="fill:#222">2</text>
<text x="303.30" y="1110.2" font-size="13.5" textLength="9.73" lengthAdjust="spacingAndGlyphs" font-weight="bold" style="fill:#222">3</text>
<text x="367.94" y="1122.5" font-size="15" textLength="15.11" lengthAdjust="spacingAndGlyphs" font-weight="bold" style="fill:#222">10</text>
<text x="383.49" y="1111.7" font-size="13.5" textLength="7.79" lengthAdjust="spacingAndGlyphs" font-weight="bold" style="fill:#222">4</text>
<text x="262.2" y="1135.8" font-size="18" text-anchor="middle">fluorescence intensity</text>
<text transform="translate(38 940.8) rotate(-90)" font-size="18" text-anchor="middle">cell count</text>
<rect x="120.5" y="816" width="29.5" height="18.399999999999977" fill="#fff" stroke="#666" stroke-width="1"/>
<rect x="120.5" y="834.4" width="29.5" height="22.600000000000023" fill="#fff" stroke="#666" stroke-width="1"/>
<rect x="120.5" y="857" width="29.5" height="20.5" fill="#fff" stroke="#666" stroke-width="1"/>
<rect x="120.5" y="877.5" width="29.5" height="22.700000000000045" fill="#fff" stroke="#666" stroke-width="1"/>
<rect x="120.5" y="900.2" width="29.5" height="22.09999999999991" fill="#fff" stroke="#666" stroke-width="1"/>
<rect x="127" y="819.2" width="17.2" height="10.799999999999955" fill="#d2f2d2" stroke="#1fd21f" stroke-width="2"/>
<text x="152.45" y="829.2" font-size="12.8" textLength="71.70" lengthAdjust="spacingAndGlyphs" >IFNγ + TNFα</text>
<rect x="127" y="838.9" width="17.2" height="12.399999999999977" fill="#f7f5cc" stroke="#d8d020" stroke-width="2"/>
<text x="153.33" y="852.3" font-size="12.8" textLength="30.62" lengthAdjust="spacingAndGlyphs" >TNFα</text>
<rect x="127" y="860.6" width="17.2" height="10.899999999999977" fill="#cfeaf0" stroke="#20b0b8" stroke-width="2"/>
<text x="152.44" y="874.3" font-size="12.8" textLength="26.50" lengthAdjust="spacingAndGlyphs" >IFNγ</text>
<rect x="127" y="881.8" width="17.2" height="12.100000000000023" fill="#ebdacb" stroke="#8b4a1a" stroke-width="2"/>
<text x="152.93" y="897.5" font-size="12.8" textLength="20.56" lengthAdjust="spacingAndGlyphs" >Ctrl</text>
<rect x="127" y="904.3" width="17.2" height="11.600000000000023" fill="#dadada" stroke="#555555" stroke-width="2"/>
<text x="152.43" y="920.4" font-size="12.8" textLength="40.73" lengthAdjust="spacingAndGlyphs" >Isotype</text>
<rect x="98.4" y="1193.4" width="24.799999999999997" height="10.5" fill="#ffffff" stroke="#222" stroke-width="1.4" />
<text x="137.91" y="1204.4" font-size="17.5" textLength="27.26" lengthAdjust="spacingAndGlyphs" >Ctrl</text>
<rect x="196.2" y="1193.4" width="25.200000000000017" height="10.5" fill="#9c9ca0" stroke="#222" stroke-width="1.4" />
<rect x="299.9" y="1193.4" width="25.30000000000001" height="10.5" fill="#7c7c7c" stroke="#222" stroke-width="1.4" />
<rect x="416.2" y="1193.4" width="24.80000000000001" height="10.5" fill="#5c5c5c" stroke="#222" stroke-width="1.4" />

<text x="235.60" y="1204.6" font-size="17.5" textLength="26.12" lengthAdjust="spacingAndGlyphs" >IFN</text>
<text x="261.53" y="1204.6" font-size="18" textLength="7.88" lengthAdjust="spacingAndGlyphs" style="font-family:'Liberation Serif',serif" >γ</text>
<text x="339.72" y="1204.6" font-size="17.5" textLength="33.06" lengthAdjust="spacingAndGlyphs" >TNF</text>
<text x="372.75" y="1204.6" font-size="18" textLength="11.65" lengthAdjust="spacingAndGlyphs" style="font-family:'Liberation Serif',serif" >α</text>
<text x="455.27" y="1204.6" font-size="17.5" textLength="26.79" lengthAdjust="spacingAndGlyphs" >IFN</text>
<text x="481.03" y="1204.6" font-size="18" textLength="8.72" lengthAdjust="spacingAndGlyphs" style="font-family:'Liberation Serif',serif" >γ</text>
<text x="498.77" y="1204.6" font-size="17.5" textLength="9.98" lengthAdjust="spacingAndGlyphs" >+</text>
<text x="514.62" y="1204.6" font-size="17.5" textLength="32.75" lengthAdjust="spacingAndGlyphs" >TNF</text>
<text x="547.35" y="1204.6" font-size="18" textLength="11.65" lengthAdjust="spacingAndGlyphs" style="font-family:'Liberation Serif',serif" >α</text>
</svg>
</body></html>
